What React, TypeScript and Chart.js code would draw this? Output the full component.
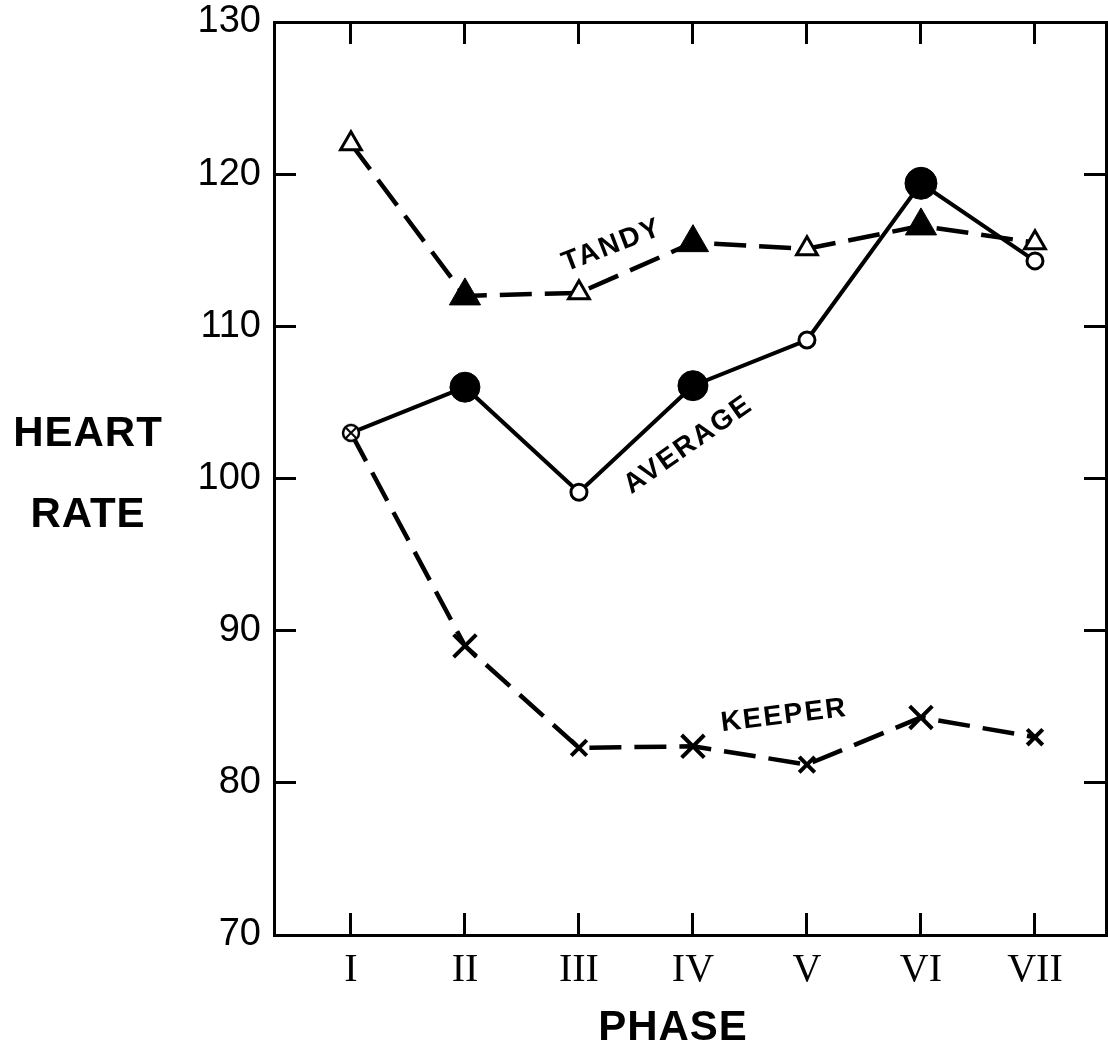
import React, { useEffect, useRef } from "react";
import { Chart, registerables } from "chart.js";

Chart.register(...registerables);

// ---- data ----
const phases = ["I", "II", "III", "IV", "V", "VI", "VII"];
const yTickValues = [70, 80, 90, 100, 110, 120, 130];

const tandy = [122.0, 112.0, 112.2, 115.5, 115.1, 116.6, 115.5];
const tandyFilled = [false, true, false, true, false, true, false];

const average = [103.0, 106.0, 99.1, 106.1, 109.1, 119.4, 114.3];
const averageFilled = [false, true, false, true, false, true, false];

const keeper = [103.0, 89.0, 82.3, 82.4, 81.2, 84.3, 83.0];
const keeperLarge = [false, true, false, true, false, true, false];

const seriesNames = ["TANDY", "AVERAGE", "KEEPER"];

function makeCrossCircle(): HTMLCanvasElement {
  const c = document.createElement("canvas");
  c.width = 22;
  c.height = 22;
  const ctx = c.getContext("2d")!;
  ctx.lineWidth = 2.5;
  ctx.strokeStyle = "#000";
  ctx.fillStyle = "#fff";
  ctx.beginPath();
  ctx.arc(11, 11, 8, 0, Math.PI * 2);
  ctx.fill();
  ctx.stroke();
  ctx.beginPath();
  ctx.moveTo(6, 6);
  ctx.lineTo(16, 16);
  ctx.moveTo(16, 6);
  ctx.lineTo(6, 16);
  ctx.lineWidth = 2;
  ctx.stroke();
  return c;
}

const textPlugin = {
  id: "textPlugin",
  afterDraw(chart: any) {
    const ctx = chart.ctx as CanvasRenderingContext2D;
    const xs = chart.scales.x;
    const ys = chart.scales.y;
    ctx.save();
    ctx.fillStyle = "#000";
    ctx.textAlign = "center";
    ctx.textBaseline = "middle";
    // axis titles
    ctx.font = "bold 42px 'Liberation Sans', Arial, sans-serif";
    (ctx as any).letterSpacing = "1px";
    ctx.fillText("HEART", 88, 434);
    ctx.fillText("RATE", 88, 515);
    ctx.fillText("PHASE", 673, 1028);

    // series labels placed in data space
    const labels = [
      { text: seriesNames[0], x: 2.29, y: 115.3, angle: -21 },
      { text: seriesNames[1], x: 2.96, y: 102.2, angle: -35 },
      { text: seriesNames[2], x: 3.8, y: 84.4, angle: -7 },
    ];
    ctx.font = "bold 28px 'Liberation Sans', Arial, sans-serif";
    (ctx as any).letterSpacing = "2px";
    for (const l of labels) {
      ctx.save();
      ctx.translate(xs.getPixelForValue(l.x), ys.getPixelForValue(l.y));
      ctx.rotate((l.angle * Math.PI) / 180);
      ctx.fillText(l.text, 0, 0);
      ctx.restore();
    }
    ctx.restore();
  },
};

export default function App() {
  const ref = useRef<HTMLCanvasElement>(null);

  useEffect(() => {
    if (!ref.current) return;
    const crossCircle = makeCrossCircle();
    const xMin = -0.675;
    const xMax = 6.623;
    const phaseTicks = (s: any) => {
      s.ticks = phases.map((_, i) => ({ value: i }));
    };
    const yTicks = (s: any) => {
      s.ticks = yTickValues.map((v) => ({ value: v }));
    };
    const axisCommon = {
      border: { display: true, color: "#000", width: 3 },
    };
    const gridCommon = {
      drawOnChartArea: false,
      drawTicks: true,
      tickLength: -22,
      tickWidth: 3,
      tickColor: "#000",
    };

    const chart = new Chart(ref.current, {
      type: "line",
      data: {
        datasets: [
          {
            label: "TANDY",
            data: tandy.map((v, i) => ({ x: i, y: v })),
            borderColor: "#000",
            borderWidth: 4.5,
            borderDash: [32, 13],
            tension: 0,
            pointStyle: "triangle",
            pointRadius: tandyFilled.map((f) => (f ? 18 : 12)),
            pointBackgroundColor: tandyFilled.map((f) => (f ? "#000" : "#fff")),
            pointBorderColor: "#000",
            pointBorderWidth: tandyFilled.map((f) => (f ? 1 : 3)),
          },
          {
            label: "AVERAGE",
            data: average.map((v, i) => ({ x: i, y: v })),
            borderColor: "#000",
            borderWidth: 4,
            tension: 0,
            pointStyle: average.map((_, i) => (i === 0 ? crossCircle : "circle")) as any,
            pointRadius: averageFilled.map((f, i) => (i === 0 ? 9 : f ? (i === 5 ? 16 : 15) : 8)),
            pointBackgroundColor: averageFilled.map((f) => (f ? "#000" : "#fff")),
            pointBorderColor: "#000",
            pointBorderWidth: averageFilled.map((f) => (f ? 1 : 3)),
          },
          {
            label: "KEEPER",
            data: keeper.map((v, i) => ({ x: i, y: v })),
            borderColor: "#000",
            borderWidth: 4.5,
            borderDash: [32, 13],
            tension: 0,
            pointStyle: "crossRot",
            pointRadius: keeperLarge.map((f, i) => (i === 0 ? 0 : f ? 16 : 11)),
            pointBorderColor: "#000",
            pointBorderWidth: 4,
          },
        ],
      },
      options: {
        responsive: false,
        animation: false,
        devicePixelRatio: 1,
        layout: { padding: 0, autoPadding: false },
        plugins: {
          legend: { display: false },
          tooltip: { enabled: false },
        },
        scales: {
          x: {
            type: "linear",
            position: "bottom",
            min: xMin,
            max: xMax,
            afterBuildTicks: phaseTicks,
            ticks: {
              autoSkip: false,
              maxRotation: 0,
              padding: 33,
              color: "#000",
              font: { family: "'Liberation Serif', 'DejaVu Serif', serif", size: 40 },
              callback: (v: any) => phases[Math.round(Number(v))] ?? "",
            },
            grid: gridCommon,
            ...axisCommon,
            afterFit: (s: any) => {
              s.height = 118;
              s.paddingLeft = 0;
              s.paddingRight = 0;
            },
          },
          x2: {
            type: "linear",
            position: "top",
            min: xMin,
            max: xMax,
            afterBuildTicks: phaseTicks,
            ticks: { display: false },
            grid: gridCommon,
            ...axisCommon,
            afterFit: (s: any) => {
              s.height = 22;
              s.paddingLeft = 0;
              s.paddingRight = 0;
            },
          },
          y: {
            type: "linear",
            position: "left",
            min: 70,
            max: 130,
            afterBuildTicks: yTicks,
            ticks: {
              padding: 35,
              color: "#000",
              font: { family: "'Liberation Sans', Arial, sans-serif", size: 38 },
            },
            grid: gridCommon,
            ...axisCommon,
            afterFit: (s: any) => {
              s.width = 274;
              s.paddingTop = 0;
              s.paddingBottom = 0;
            },
          },
          y2: {
            type: "linear",
            position: "right",
            min: 70,
            max: 130,
            afterBuildTicks: yTicks,
            ticks: { display: false },
            grid: gridCommon,
            ...axisCommon,
            afterFit: (s: any) => {
              s.width = 2;
              s.paddingTop = 0;
              s.paddingBottom = 0;
            },
          },
        },
      } as any,
      plugins: [textPlugin],
    });

    return () => chart.destroy();
  }, []);

  return (
    <div style={{ position: "absolute", left: 0, top: 0, width: 1108, height: 1053, background: "#fff" }}>
      <canvas ref={ref} width={1108} height={1053} style={{ display: "block" }} />
    </div>
  );
}
